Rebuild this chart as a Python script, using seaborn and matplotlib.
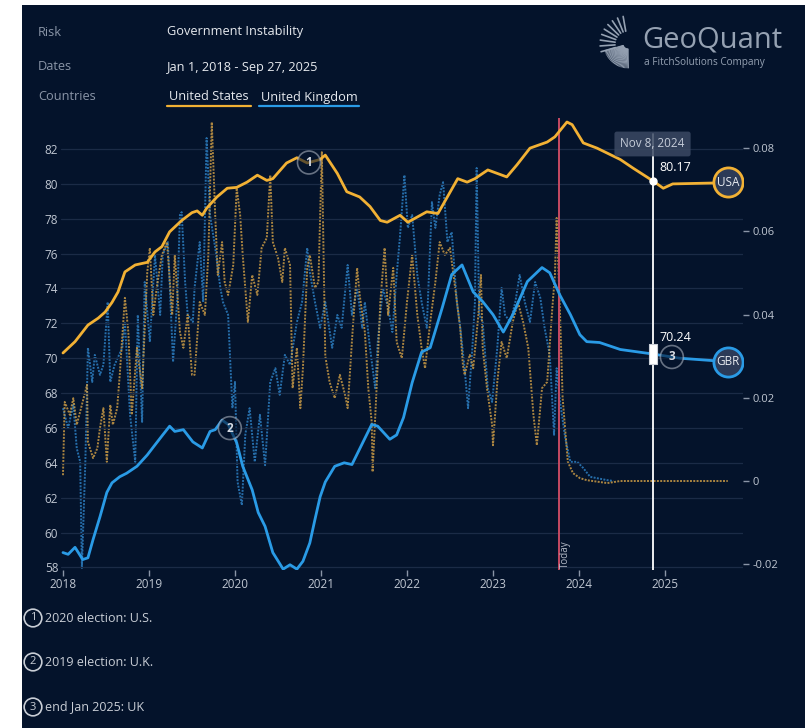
import numpy as np
import matplotlib
matplotlib.use("Agg")
import matplotlib.pyplot as plt
import seaborn as sns
from matplotlib.patches import Rectangle
from matplotlib.lines import Line2D
from matplotlib.path import Path

# smoothed Government Instability score (left axis), x in decimal years
usa_years = [2018.00, 2018.14, 2018.29, 2018.41, 2018.49, 2018.57, 2018.64, 2018.72, 2018.84, 2018.98,
             2019.07, 2019.15, 2019.24, 2019.38, 2019.50, 2019.56, 2019.62, 2019.67, 2019.79, 2019.91,
             2020.02, 2020.14, 2020.26, 2020.37, 2020.44, 2020.60, 2020.72, 2020.84, 2020.99, 2021.05,
             2021.19, 2021.30, 2021.45, 2021.57, 2021.69, 2021.77, 2021.92, 2022.01, 2022.23, 2022.36,
             2022.59, 2022.70, 2022.79, 2022.94, 2023.16, 2023.28, 2023.43, 2023.63, 2023.72, 2023.86,
             2023.92, 2024.05, 2024.21, 2024.48, 2024.63, 2024.86, 2024.98, 2025.09, 2025.56, 2025.73]
usa_score = [70.3, 70.95, 71.9, 72.3, 72.65, 73.2, 73.8, 74.95, 75.35, 75.5,
             76.1, 76.4, 77.25, 77.9, 78.35, 78.45, 78.2, 78.6, 79.25, 79.75,
             79.8, 80.1, 80.5, 80.2, 80.3, 81.2, 81.5, 81.2, 81.4, 81.65,
             80.6, 79.55, 79.25, 78.7, 77.9, 77.8, 78.2, 77.8, 78.4, 78.3,
             80.3, 80.1, 80.3, 80.8, 80.4, 81.1, 82.05, 82.4, 82.7, 83.55,
             83.4, 82.35, 82.05, 81.4, 80.9, 80.17, 79.75, 80.0, 80.05, 80.1]

gbr_years = [2018.00, 2018.06, 2018.14, 2018.23, 2018.29, 2018.35, 2018.43, 2018.51, 2018.57, 2018.66,
             2018.74, 2018.86, 2018.98, 2019.05, 2019.16, 2019.24, 2019.30, 2019.40, 2019.51, 2019.62,
             2019.71, 2019.77, 2019.85, 2019.92, 2020.02, 2020.09, 2020.20, 2020.27, 2020.35, 2020.44,
             2020.56, 2020.64, 2020.72, 2020.79, 2020.87, 2020.93, 2020.99, 2021.05, 2021.16, 2021.27,
             2021.36, 2021.47, 2021.59, 2021.66, 2021.80, 2021.88, 2021.96, 2022.06, 2022.17, 2022.27,
             2022.41, 2022.52, 2022.64, 2022.77, 2022.88, 2023.00, 2023.12, 2023.23, 2023.40, 2023.57,
             2023.66, 2023.78, 2023.90, 2024.01, 2024.09, 2024.24, 2024.48, 2024.86, 2025.17, 2025.73]
gbr_score = [58.85, 58.75, 59.15, 58.45, 58.55, 59.6, 60.9, 62.3, 62.85, 63.2,
             63.4, 63.8, 64.45, 64.9, 65.6, 66.1, 65.8, 65.9, 65.2, 64.85,
             65.8, 65.9, 66.45, 66.2, 65.15, 63.8, 62.45, 61.15, 60.35, 58.85,
             57.9, 58.15, 57.9, 58.35, 59.4, 60.75, 62.05, 62.9, 63.8, 64.0,
             63.9, 65.0, 66.2, 66.1, 65.35, 65.6, 66.6, 68.6, 70.35, 70.6,
             72.9, 74.8, 75.35, 73.8, 73.25, 72.5, 71.5, 72.5, 74.4, 75.2,
             74.9, 73.6, 72.5, 71.35, 70.95, 70.9, 70.5, 70.24, 70.0, 69.8]

# raw daily series (right axis)
usa_chg_years = [2018.00, 2018.02, 2018.08, 2018.12, 2018.16, 2018.22, 2018.28, 2018.29, 2018.35, 2018.40,
                 2018.43, 2018.47, 2018.51, 2018.55, 2018.58, 2018.63, 2018.66, 2018.72, 2018.76, 2018.80,
                 2018.86, 2018.92, 2018.98, 2019.01, 2019.05, 2019.09, 2019.15, 2019.21, 2019.27, 2019.30,
                 2019.36, 2019.40, 2019.45, 2019.50, 2019.53, 2019.59, 2019.65, 2019.69, 2019.73, 2019.77,
                 2019.80, 2019.85, 2019.88, 2019.92, 2019.98, 2020.02, 2020.06, 2020.09, 2020.15, 2020.20,
                 2020.26, 2020.31, 2020.37, 2020.41, 2020.44, 2020.50, 2020.55, 2020.58, 2020.64, 2020.67,
                 2020.72, 2020.76, 2020.79, 2020.84, 2020.87, 2020.93, 2020.97, 2021.01, 2021.05, 2021.10,
                 2021.16, 2021.22, 2021.28, 2021.31, 2021.37, 2021.42, 2021.45, 2021.51, 2021.55, 2021.59,
                 2021.60, 2021.65, 2021.69, 2021.74, 2021.78, 2021.84, 2021.88, 2021.94, 2022.00, 2022.06,
                 2022.12, 2022.17, 2022.21, 2022.27, 2022.33, 2022.38, 2022.44, 2022.50, 2022.56, 2022.62,
                 2022.65, 2022.67, 2022.73, 2022.77, 2022.83, 2022.86, 2022.88, 2022.93, 2022.99, 2023.00,
                 2023.05, 2023.10, 2023.16, 2023.23, 2023.29, 2023.35, 2023.41, 2023.47, 2023.51, 2023.57,
                 2023.63, 2023.69, 2023.72, 2023.74, 2023.78, 2023.81, 2023.87, 2023.93, 2024.01, 2024.09,
                 2024.33, 2024.48, 2025.73]
usa_chg = [0.0014, 0.0190, 0.0159, 0.0199, 0.0135, 0.0183, 0.0231, 0.0094, 0.0055, 0.0079,
           0.0127, 0.0175, 0.0046, 0.0183, 0.0135, 0.0175, 0.0255, 0.0440, 0.0358, 0.0159,
           0.0320, 0.0223, 0.0502, 0.0560, 0.0399, 0.0464, 0.0543, 0.0574, 0.0399, 0.0543,
           0.0358, 0.0320, 0.0399, 0.0255, 0.0255, 0.0430, 0.0399, 0.0543, 0.0862, 0.0639,
           0.0495, 0.0574, 0.0478, 0.0447, 0.0519, 0.0704, 0.0639, 0.0543, 0.0382, 0.0495,
           0.0447, 0.0560, 0.0584, 0.0735, 0.0574, 0.0536, 0.0478, 0.0560, 0.0519, 0.0223,
           0.0320, 0.0175, 0.0271, 0.0512, 0.0543, 0.0464, 0.0478, 0.0790, 0.0300, 0.0238,
           0.0199, 0.0255, 0.0207, 0.0175, 0.0368, 0.0512, 0.0447, 0.0358, 0.0223, 0.0142,
           0.0022, 0.0238, 0.0430, 0.0560, 0.0399, 0.0512, 0.0334, 0.0295, 0.0430, 0.0543,
           0.0399, 0.0320, 0.0271, 0.0382, 0.0478, 0.0574, 0.0543, 0.0560, 0.0464, 0.0365,
           0.0279, 0.0255, 0.0303, 0.0271, 0.0399, 0.0495, 0.0320, 0.0223, 0.0135, 0.0086,
           0.0238, 0.0334, 0.0295, 0.0382, 0.0430, 0.0382, 0.0320, 0.0159, 0.0086, 0.0223,
           0.0238, 0.0416, 0.0495, 0.0632, 0.0399, 0.0199, 0.0046, 0.0019, 0.0007, 0.0002,
           -0.0005, 0.0, 0.0]

gbr_chg_years = [2018.00, 2018.06, 2018.12, 2018.16, 2018.20, 2018.22, 2018.26, 2018.29, 2018.34, 2018.37,
                 2018.43, 2018.47, 2018.52, 2018.55, 2018.60, 2018.69, 2018.72, 2018.78, 2018.84, 2018.87,
                 2018.92, 2018.95, 2019.01, 2019.07, 2019.13, 2019.16, 2019.22, 2019.28, 2019.33, 2019.36,
                 2019.38, 2019.42, 2019.45, 2019.51, 2019.53, 2019.59, 2019.63, 2019.67, 2019.71, 2019.77,
                 2019.83, 2019.86, 2019.92, 2019.97, 2020.00, 2020.03, 2020.08, 2020.12, 2020.17, 2020.23,
                 2020.29, 2020.35, 2020.41, 2020.47, 2020.52, 2020.58, 2020.64, 2020.72, 2020.78, 2020.84,
                 2020.87, 2020.93, 2020.99, 2021.05, 2021.13, 2021.19, 2021.24, 2021.31, 2021.36, 2021.42,
                 2021.48, 2021.51, 2021.57, 2021.63, 2021.66, 2021.72, 2021.78, 2021.83, 2021.88, 2021.92,
                 2021.97, 2022.01, 2022.06, 2022.12, 2022.17, 2022.23, 2022.29, 2022.33, 2022.38, 2022.42,
                 2022.47, 2022.52, 2022.58, 2022.62, 2022.67, 2022.71, 2022.76, 2022.79, 2022.81, 2022.84,
                 2022.88, 2022.94, 2022.99, 2023.05, 2023.10, 2023.14, 2023.20, 2023.26, 2023.31, 2023.37,
                 2023.43, 2023.49, 2023.55, 2023.60, 2023.66, 2023.71, 2023.74, 2023.78, 2023.84, 2023.90,
                 2023.98, 2024.05, 2024.13, 2024.33, 2024.40]
gbr_chg = [0.0175, 0.0127, 0.0183, 0.0079, 0.0046, -0.0209, 0.0046, 0.0320, 0.0238, 0.0303,
           0.0255, 0.0279, 0.0430, 0.0238, 0.0279, 0.0320, 0.0382, 0.0159, 0.0046, 0.0399,
           0.0142, 0.0478, 0.0334, 0.0543, 0.0399, 0.0543, 0.0574, 0.0286, 0.0440, 0.0639,
           0.0646, 0.0478, 0.0399, 0.0382, 0.0464, 0.0574, 0.0430, 0.0824, 0.0639, 0.0560,
           0.0464, 0.0430, 0.0399, 0.0175, 0.0238, -0.0002, -0.0058, 0.0111, 0.0175, 0.0046,
           0.0159, 0.0038, 0.0238, 0.0271, 0.0207, 0.0303, 0.0279, 0.0382, 0.0430, 0.0560,
           0.0502, 0.0430, 0.0368, 0.0430, 0.0320, 0.0399, 0.0368, 0.0519, 0.0399, 0.0464,
           0.0368, 0.0430, 0.0320, 0.0223, 0.0334, 0.0464, 0.0416, 0.0358, 0.0495, 0.0591,
           0.0735, 0.0608, 0.0639, 0.0495, 0.0430, 0.0368, 0.0670, 0.0608, 0.0687, 0.0718,
           0.0574, 0.0598, 0.0430, 0.0368, 0.0271, 0.0175, 0.0320, 0.0430, 0.0752, 0.0399,
           0.0382, 0.0223, 0.0190, 0.0320, 0.0464, 0.0399, 0.0382, 0.0430, 0.0495, 0.0430,
           0.0382, 0.0478, 0.0440, 0.0368, 0.0303, 0.0111, 0.0271, 0.0190, 0.0103, 0.0046,
           0.0046, 0.0031, 0.0010, 0.0002, 0.0]

year_ticks = [2018, 2019, 2020, 2021, 2022, 2023, 2024, 2025]
left_ticks = [58, 60, 62, 64, 66, 68, 70, 72, 74, 76, 78, 80, 82]
right_ticks = [-0.02, 0, 0.02, 0.04, 0.06, 0.08]
right_tick_labels = ["-0.02", "0", "0.02", "0.04", "0.06", "0.08"]

today = 2023.77
hover_date = 2024.855
hover_label = "Nov 8, 2024"
hover_usa = 80.17
hover_gbr = 70.24

note_texts = ["2020 election: U.S.", "2019 election: U.K.", "end Jan 2025: UK"]
note_years = [2020.86, 2019.94, 2025.08]
note_series = ["USA", "GBR", "GBR"]

header_keys = ["Risk", "Dates", "Countries"]
header_vals = ["Government Instability", "Jan 1, 2018 - Sep 27, 2025"]
country_names = ["United States", "United Kingdom"]

BG = "#04132b"
USA_C = "#f2b134"
GBR_C = "#2a9be6"
USA_NOISE = "#c99a45"
GBR_NOISE = "#2f86cc"
GRID = "#1b2b46"
TICK = "#bfc6d1"
MUTED = "#8a95a7"
W, H = 811, 728

sns.set_theme(style="dark")
plt.rcParams["font.family"] = ["Open Sans", "DejaVu Sans"]


def fig_xy(x, y):
    return x / W, 1 - y / H


fig = plt.figure(figsize=(W / 100, H / 100), dpi=100, facecolor="white")
fig.patches.append(Rectangle((22 / W, 0), (805 - 22) / W, (H - 5) / H,
                             transform=fig.transFigure, facecolor=BG,
                             edgecolor="none", zorder=-5))

ax = fig.add_axes([61 / W, 158 / H, 682 / W, 452 / H])
ax2 = ax.twinx()
ax.set_zorder(2)
ax2.set_zorder(1)
ax.patch.set_visible(False)
ax2.patch.set_visible(False)

# raw series on the right axis
sns.lineplot(x=gbr_chg_years, y=gbr_chg, ax=ax2, color=GBR_NOISE, lw=1.4,
             alpha=0.8, linestyle=(0, (1.0, 0.7)), estimator=None)
sns.lineplot(x=usa_chg_years, y=usa_chg, ax=ax2, color=USA_NOISE, lw=1.4,
             alpha=0.85, linestyle=(0, (1.0, 0.7)), estimator=None)

# smoothed series on the left axis
sns.lineplot(x=gbr_years, y=gbr_score, ax=ax, color=GBR_C, lw=2.0, estimator=None)
sns.lineplot(x=usa_years, y=usa_score, ax=ax, color=USA_C, lw=2.0, estimator=None)

ax.set_xlim(2017.977, 2025.907)
ax.set_ylim(57.85, 83.78)
ax2.set_ylim(-0.02138, 0.08721)

for a in (ax, ax2):
    for s in a.spines.values():
        s.set_visible(False)
    a.set_xlabel("")
    a.set_ylabel("")

ax.set_yticks(left_ticks)
ax.set_yticklabels([str(t) for t in left_ticks])
ax.set_xticks(year_ticks)
ax.set_xticklabels([str(t) for t in year_ticks])
ax.tick_params(axis="y", length=0, pad=2, labelsize=8.5, labelcolor=TICK)
ax.tick_params(axis="x", bottom=True, length=4, width=1, color=MUTED, pad=2,
               labelsize=8.5, labelcolor=TICK)
ax.grid(axis="y", color=GRID, lw=0.9)
ax.grid(axis="x", visible=False)

ax2.set_yticks(right_ticks)
ax2.set_yticklabels(right_tick_labels)
ax2.tick_params(axis="y", right=True, length=4, width=1, color=MUTED, pad=3,
                labelsize=8, labelcolor=TICK)
ax2.grid(False)

# today line
ax.axvline(today, color="#c64a63", lw=1.4, zorder=1.5)
ax.text(today + 0.07, 0.035, "Today", transform=ax.get_xaxis_transform(),
        rotation=90, ha="center", va="center", fontsize=7, color="#b5bcc8")

# hover cursor
ax.axvline(hover_date, ymin=0, ymax=0.965, color="white", lw=1.3, zorder=3)
ax.annotate(hover_label, xy=(hover_date, 0.9425), xycoords=("data", "axes fraction"),
            ha="center", va="center", fontsize=8.5, color="#c5ccd8", zorder=4,
            bbox=dict(boxstyle="round,pad=0.5,rounding_size=0.2", fc="#3b4963",
                      ec="none", alpha=0.85))
ax.plot(hover_date, hover_usa, "o", ms=5, color="white", zorder=5)
handle = Path([(-0.35, -1), (0.35, -1), (0.35, 1), (-0.35, 1), (-0.35, -1)])
ax.plot(hover_date, hover_gbr, marker=handle, ms=15, mfc="white", mec="#c9ced6",
        mew=0.8, ls="none", zorder=5)
ax.annotate(f"{hover_usa:.2f}", (hover_date, hover_usa), xytext=(5, 10),
            textcoords="offset points", fontsize=9, color="white", va="center", zorder=5)
ax.annotate(f"{hover_gbr:.2f}", (hover_date, hover_gbr), xytext=(5, 12),
            textcoords="offset points", fontsize=9, color="white", va="center", zorder=5)

# end-of-series country badges
for yrs, vals, col, code in [(usa_years, usa_score, USA_C, "USA"),
                             (gbr_years, gbr_score, GBR_C, "GBR")]:
    ax.plot(yrs[-1], vals[-1], "o", ms=21, mfc="#2c3a57", mec=col, mew=2, zorder=6)
    ax.text(yrs[-1], vals[-1], code, ha="center", va="center", fontsize=8.5,
            color="#e8ebf0", zorder=7)

# numbered event markers
series_lookup = {"USA": (usa_years, usa_score), "GBR": (gbr_years, gbr_score)}
for i, (yr, key) in enumerate(zip(note_years, note_series), start=1):
    xs, ys = series_lookup[key]
    ax.text(yr, np.interp(yr, xs, ys), str(i), ha="center", va="center",
            fontsize=8.5, fontweight="bold", color="#d6dbe3", zorder=6,
            bbox=dict(boxstyle="circle,pad=0.42", fc=BG, ec="#a9b1be", lw=1.2, alpha=0.6))

# header block
for key, y in zip(header_keys, [32, 67, 97]):
    fig.text(*fig_xy(38, y), key, fontsize=9.2, color=MUTED, va="center")
for val, y in zip(header_vals, [32, 67]):
    fig.text(*fig_xy(167, y), val, fontsize=9.2, color="#e6e9ee", va="center")

fig.canvas.draw()
renderer = fig.canvas.get_renderer()
x0 = 169
for name, col in zip(country_names, [USA_C, GBR_C]):
    t = fig.text(*fig_xy(x0, 97), name, fontsize=9.2, color="#e6e9ee", va="center")
    bb = t.get_window_extent(renderer)
    fig.add_artist(Line2D([bb.x0 / W - 2 / W, bb.x1 / W + 2 / W], [1 - 106 / H] * 2,
                          transform=fig.transFigure, color=col, lw=1.6))
    x0 = bb.x1 + 12

# logo
fig.text(*fig_xy(642, 40), "GeoQuant", fontsize=21, color="#95a1b2", va="center")
fig.text(*fig_xy(644, 62), "a FitchSolutions Company", fontsize=7.2, color="#95a1b2", va="center")
cx, cy = 628, 44
for ang in np.arange(100, 200, 12):
    r = np.radians(ang)
    fig.add_artist(Line2D([(cx + 13 * np.cos(r)) / W, (cx + 28 * np.cos(r)) / W],
                          [1 - (cy - 13 * np.sin(r)) / H, 1 - (cy - 28 * np.sin(r)) / H],
                          transform=fig.transFigure, color="#95a1b2", lw=1.2))
for ang in np.arange(196, 272, 3):
    r = np.radians(ang)
    fig.add_artist(Line2D([(cx + 5 * np.cos(r)) / W, (cx + 24 * np.cos(r)) / W],
                          [1 - (cy - 5 * np.sin(r)) / H, 1 - (cy - 24 * np.sin(r)) / H],
                          transform=fig.transFigure, color="#95a1b2", lw=0.7))

# footnotes
for i, (txt, y) in enumerate(zip(note_texts, [618, 662, 707]), start=1):
    fig.text(*fig_xy(33, y), str(i), fontsize=8, color="#c9ced6", ha="center", va="center",
             bbox=dict(boxstyle="circle,pad=0.3", fc="none", ec="#c9ced6", lw=1.2))
    fig.text(*fig_xy(45, y), txt, fontsize=9, color="#c9ced6", va="center")

fig.savefig("out.png", dpi=100, facecolor="white")
